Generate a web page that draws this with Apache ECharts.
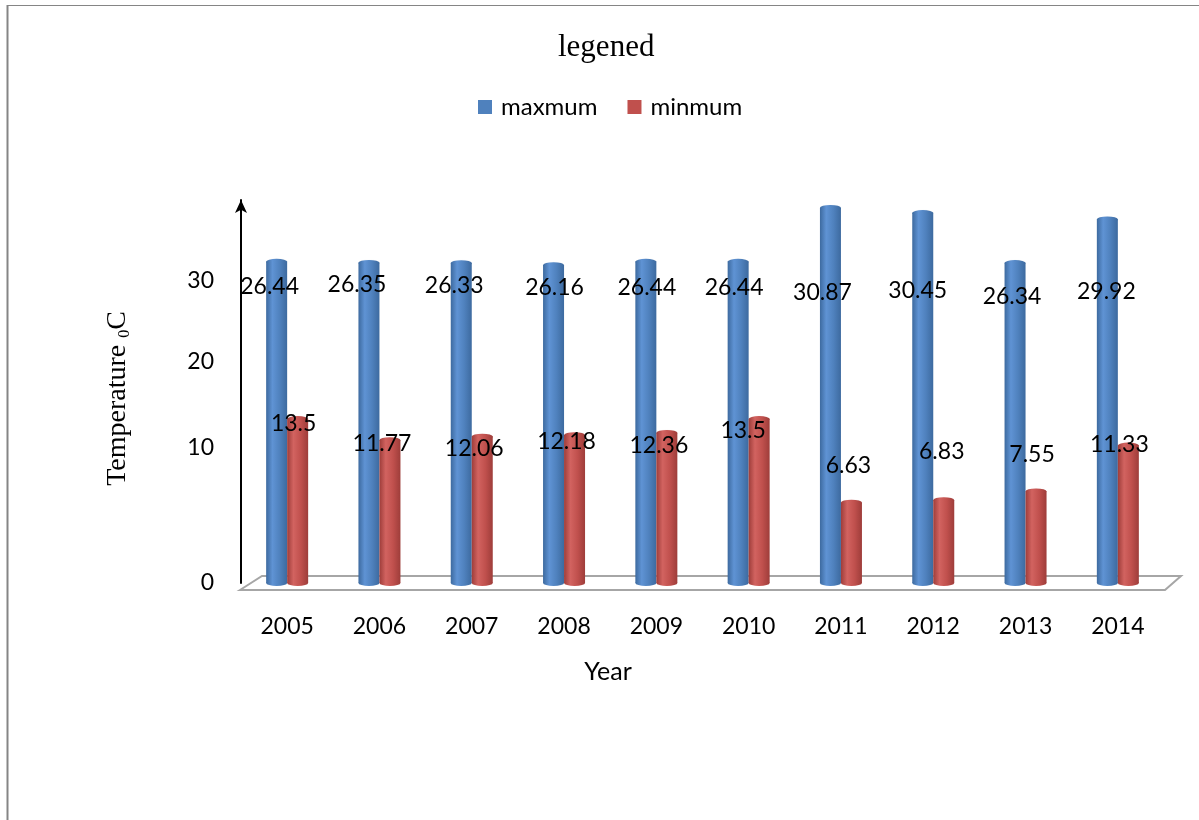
<!DOCTYPE html>
<html>
<head>
<meta charset="utf-8">
<title>legened</title>
<script src="https://cdn.jsdelivr.net/npm/echarts@6/dist/echarts.min.js"></script>
<style>
  html, body { margin: 0; padding: 0; background: #ffffff; }
  #chart { width: 1199px; height: 820px; }
</style>
</head>
<body>
<div id="chart"></div>
<script>
// Yearly temperature extremes (°C)
const years = ['2005', '2006', '2007', '2008', '2009', '2010', '2011', '2012', '2013', '2014'];
const maxTemps = [26.44, 26.35, 26.33, 26.16, 26.44, 26.44, 30.87, 30.45, 26.34, 29.92];
const minTemps = [13.5, 11.77, 12.06, 12.18, 12.36, 13.5, 6.63, 6.83, 7.55, 11.33];

// Vertical-axis labels and the axis values they sit at
const tickLabels = ['0', '10', '20', '30'];
const tickSpots = [0, 11.1, 18.2, 24.9];

// Hand-placed value labels: [dx, dy] in px from the top centre of each bar
const maxLabelNudge = [[-7, 25], [-12, 22], [-7, 23], [1, 23], [1, 26], [-4, 26], [-8, 85], [-5, 78], [-3, 34], [-1, 72]];
const minLabelNudge = [[-4, 5], [-8, 4], [-8, 12], [-8, 7], [-8, 13], [-16, 12], [-3, -37], [-2, -48], [-4, -37], [-9, -1]];

const GRID = { left: 241, top: 200, width: 923, height: 383 };
const BAR_W = 21;
const sansFont = 'Lato, "Open Sans", sans-serif';
const serifFont = '"Liberation Serif", "DejaVu Serif", serif';

function cylinder(dark, mid, light) {
  return new echarts.graphic.LinearGradient(0, 0, 1, 0, [
    { offset: 0, color: dark },
    { offset: 0.3, color: light },
    { offset: 0.65, color: mid },
    { offset: 1, color: dark }
  ]);
}
const blueFill = cylinder('#3d6a9f', '#4f81bd', '#5f93d4');
const redFill = cylinder('#9e3d3a', '#c0504d', '#d26360');

function labelled(values, nudges) {
  return values.map((v, i) => ({
    value: v,
    label: { offset: nudges[i] }
  }));
}

// elliptical ends that give each bar its cylinder look
function caps(name, values, fill, rim, dx, atTop) {
  return {
    name: name,
    type: 'pictorialBar',
    symbol: 'circle',
    symbolSize: [BAR_W, 6],
    symbolPosition: atTop ? 'end' : 'start',
    symbolOffset: [dx, atTop ? '-50%' : '50%'],
    itemStyle: { color: fill, borderColor: rim, borderWidth: atTop ? 1 : 0 },
    z: atTop ? 3 : 1,
    silent: true,
    legendHoverLink: false,
    data: values
  };
}

const valueLabel = {
  show: true,
  position: ['50%', 0],
  align: 'center',
  verticalAlign: 'middle',
  color: '#000000',
  fontFamily: sansFont,
  fontSize: 23
};

const chart = echarts.init(document.getElementById('chart'), null, { renderer: 'canvas' });

const base = GRID.top + GRID.height;
const right = GRID.left + GRID.width;

chart.setOption({
  backgroundColor: '#ffffff',
  animation: false,
  title: {
    text: 'legened',
    left: 553,
    top: 27,
    textStyle: { fontFamily: serifFont, fontSize: 31, fontWeight: 'normal', color: '#000000' }
  },
  legend: {
    data: [
      { name: 'maxmum', itemStyle: { color: '#4f81bd' } },
      { name: 'minmum', itemStyle: { color: '#c0504d' } }
    ],
    left: 473,
    top: 90,
    icon: 'rect',
    itemWidth: 14,
    itemHeight: 14,
    itemGap: 30,
    selectedMode: false,
    textStyle: { fontFamily: sansFont, fontSize: 24, color: '#000000', padding: [0, 0, 0, 4] }
  },
  grid: { left: GRID.left, top: GRID.top, width: GRID.width, height: GRID.height, containLabel: false },
  xAxis: {
    type: 'category',
    data: years,
    name: 'Year',
    nameLocation: 'middle',
    nameGap: 76,
    nameTextStyle: { fontFamily: sansFont, fontSize: 25, color: '#000000', padding: [0, 189, 0, 0] },
    axisLine: { show: false },
    axisTick: { show: false },
    axisLabel: { margin: 32, fontFamily: sansFont, fontSize: 23, color: '#000000' },
    splitLine: { show: false }
  },
  yAxis: {
    type: 'value',
    min: 0,
    max: 31.5,
    name: '{t|Temperature }{s|0}{t|C}',
    nameLocation: 'middle',
    nameGap: 108,
    nameRotate: 90,
    nameTextStyle: {
      padding: [0, 14, 0, 0],
      rich: {
        t: { fontFamily: serifFont, fontSize: 28, color: '#000000' },
        s: { fontFamily: serifFont, fontSize: 16, color: '#000000', verticalAlign: 'bottom', lineHeight: 30 }
      }
    },
    axisLine: {
      show: true,
      symbol: ['none', 'arrow'],
      symbolSize: [9, 13],
      lineStyle: { color: '#000000', width: 2 }
    },
    axisTick: { show: false },
    splitLine: { show: false },
    axisLabel: {
      margin: 27,
      fontFamily: sansFont,
      fontSize: 23,
      color: '#000000',
      customValues: tickSpots,
      formatter: function (value) {
        const i = tickSpots.indexOf(value);
        return i >= 0 ? tickLabels[i] : '';
      }
    }
  },
  graphic: [
    // frame
    { type: 'line', shape: { x1: 7.5, y1: 5, x2: 7.5, y2: 820 }, style: { stroke: '#858585', lineWidth: 2 }, silent: true },
    { type: 'line', shape: { x1: 7, y1: 5.5, x2: 1199, y2: 5.5 }, style: { stroke: '#858585', lineWidth: 1 }, silent: true },
    // floor of the plot
    {
      type: 'polygon',
      z: -1,
      silent: true,
      shape: { points: [[GRID.left - 1, base + 7], [GRID.left + 21, base - 7], [right + 17, base - 7], [right + 1, base + 7]] },
      style: { fill: '#ffffff', stroke: '#a6a6a6', lineWidth: 2 }
    }
  ],
  series: [
    caps('maxmum', maxTemps, blueFill, '#3d6a9f', -BAR_W / 2, false),
    caps('minmum', minTemps, redFill, '#9e3d3a', BAR_W / 2, false),
    caps('maxmum', maxTemps, blueFill, '#3d6a9f', -BAR_W / 2, true),
    caps('minmum', minTemps, redFill, '#9e3d3a', BAR_W / 2, true),
    {
      name: 'maxmum',
      type: 'bar',
      barWidth: BAR_W,
      barGap: '0%',
      itemStyle: { color: blueFill },
      label: valueLabel,
      z: 4,
      data: labelled(maxTemps, maxLabelNudge)
    },
    {
      name: 'minmum',
      type: 'bar',
      barWidth: BAR_W,
      barGap: '0%',
      itemStyle: { color: redFill },
      label: valueLabel,
      z: 4,
      data: labelled(minTemps, minLabelNudge)
    }
  ]
});
</script>
</body>
</html>
